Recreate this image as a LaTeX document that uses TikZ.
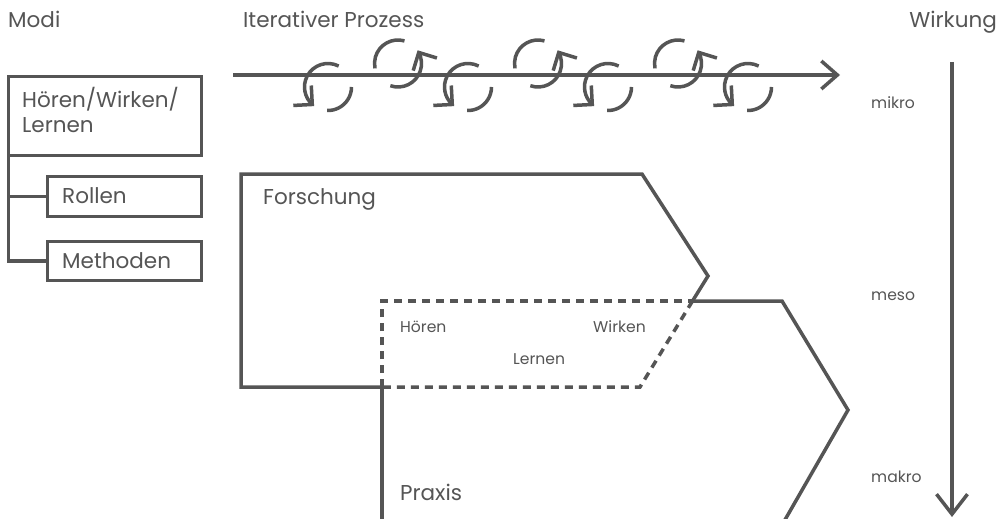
\documentclass[tikz,border=0pt]{standalone}
\usepackage{fontspec}
\setmainfont{Poppins}
\usetikzlibrary{arrows.meta}
\definecolor{ink}{HTML}{555555}
\tikzset{
  ln/.style={draw=ink, line width=3.5pt},
  dsh/.style={ln, dash pattern=on 8pt off 6pt},
  box/.style={draw=ink, line width=3.5pt, rectangle, inner sep=0pt, outer sep=0pt},
  big/.style={font=\fontsize{21.5}{25}\selectfont, text=ink, inner sep=0pt},
  small/.style={font=\fontsize{15.6}{18}\selectfont, text=ink, inner sep=0pt},
  barb/.style={ln, line join=miter},
  mainarrow/.style={ln, -{Straight Barb[length=16pt,width=28pt]}},
  wirkarrow/.style={ln, -{Straight Barb[length=20pt,width=31pt]}},
}
\begin{document}
\begin{tikzpicture}[x=1pt,y=-1pt]
\clip (0,0) rectangle (1004,519);
\fill[white] (0,0) rectangle (1004,519);

% headings
\node[big, anchor=base west] (tmodi) at (8,28) {Modi};
\node[big, anchor=base west] (tit) at (243,28) {Iterativer Prozess};
\node[big, anchor=base east] (twirk) at (997,28) {Wirkung};

% left tree
\node[box, minimum width=193pt, minimum height=79pt, anchor=north west] (hwl) at (8.5,76.5) {};
\node[box, minimum width=154pt, minimum height=40pt, anchor=north west] (roll) at (47.5,176.5) {};
\node[box, minimum width=154pt, minimum height=39pt, anchor=north west] (meth) at (47.5,241.5) {};
\draw[ln] (hwl.south west) |- (meth.west);
\draw[ln] (hwl.south west |- roll.west) -- (roll.west);
\node[big, anchor=base west] (thwl1) at (22,107) {Hören/Wirken/};
\node[big, anchor=base west] (thwl2) at (22,132) {Lernen};
\node[big, anchor=base west] (troll) at (62,203) {Rollen};
\node[big, anchor=base west] (tmeth) at (62,268) {Methoden};

% iterative process
\coordinate (ms) at (233,75);
\coordinate (me) at (840,75);
\draw[mainarrow] (ms) -- (me);
\foreach \cx [count=\i] in {328,468,608,748} {
  \draw[ln] (\cx,87) ++(-63:23.5) arc[start angle=-63, end angle=-228, radius=23.5] coordinate (lt\i);
  \draw[barb] (lt\i) ++(-93:19) -- (lt\i) -- ++(-183:19);
  \draw[ln] (\cx,87) ++(92:23.5) arc[start angle=92, end angle=0, radius=23.5];
}
\foreach \cx [count=\i] in {398,538,678} {
  \draw[ln] (\cx,63.5) ++(-74:23.5) arc[start angle=-74, end angle=-192, radius=23.5];
  \draw[ln] (\cx,63.5) ++(-251:23.5) arc[start angle=-251, end angle=-388, radius=23.5] coordinate (ut\i);
  \draw[barb] (ut\i) ++(17:19) -- (ut\i) -- ++(107:19);
}

% Forschung / Praxis
\coordinate (f1) at (241,174);
\coordinate (f2) at (642,174);
\coordinate (f3) at (708,276);
\coordinate (fx) at (692.5,301);
\coordinate (f4) at (640,387);
\coordinate (fo) at (382,387);
\coordinate (f5) at (241,387);
\coordinate (p1) at (382,301);
\coordinate (p2) at (782,301);
\coordinate (p3) at (848,410);
\coordinate (p4) at (778,532);
\coordinate (p5) at (382,532);
\draw[ln] (fo) -- (f5) -- (f1) -- (f2) -- (f3) -- (fx);
\draw[dsh] (fx) -- (f4) -- (fo);
\draw[dsh] (fo) -- (p1) -- (fx);
\draw[ln] (fx) -- (p2) -- (p3) -- (p4);
\draw[ln] (fo) -- (p5);

\node[big, anchor=base west] (tfor) at (263,204) {Forschung};
\node[big, anchor=base west] (tpra) at (400,500) {Praxis};
\node[small, anchor=base west] (thoe) at (400,332) {Hören};
\node[small, anchor=base west] (twir) at (593,332) {Wirken};
\node[small, anchor=base west] (tler) at (513,364) {Lernen};

% Wirkung axis
\coordinate (ws) at (952,62);
\coordinate (we) at (952,517);
\draw[wirkarrow] (ws) -- (we);
\node[small, anchor=base west] (tmik) at (871,108) {mikro};
\node[small, anchor=base west] (tmes) at (871,300) {meso};
\node[small, anchor=base west] (tmak) at (871,482) {makro};
\end{tikzpicture}
\end{document}
